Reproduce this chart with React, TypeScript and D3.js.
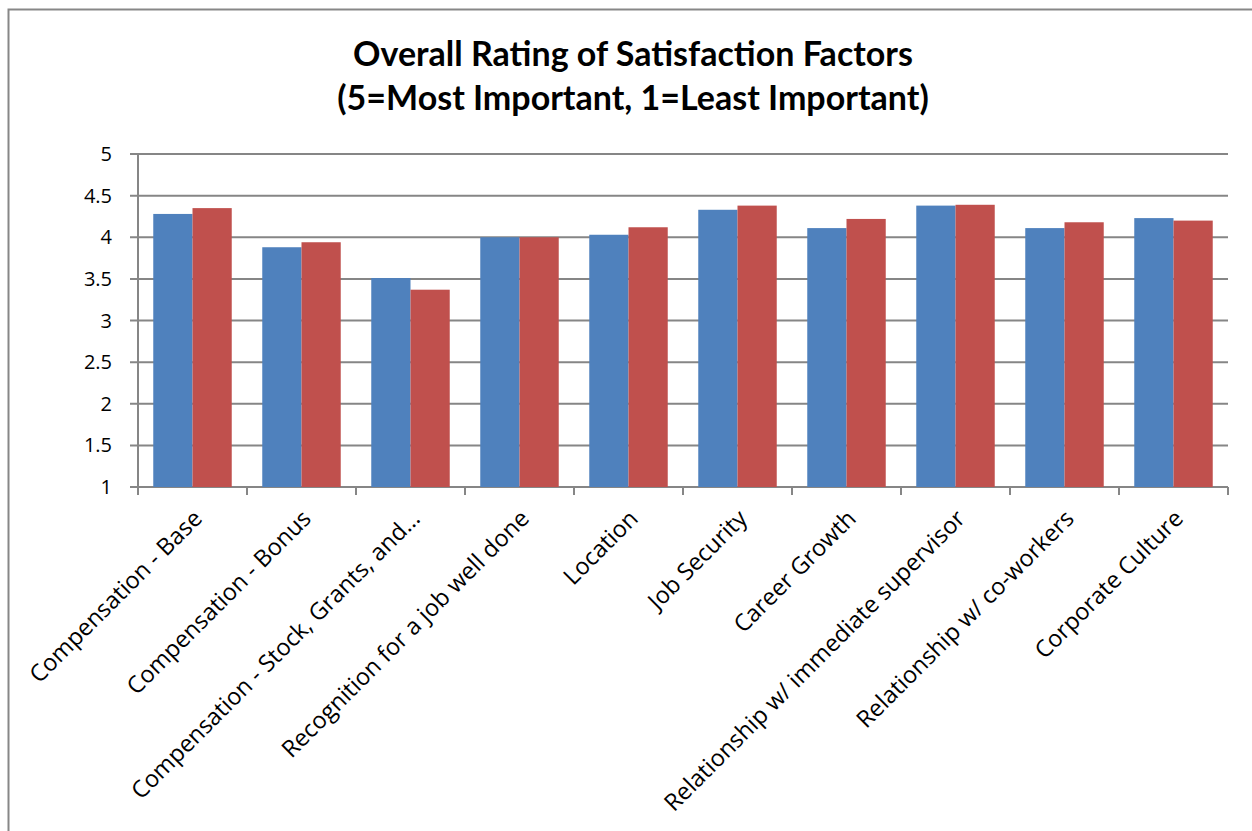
import React from "react";
import * as d3 from "d3";

const categories = [
  "Compensation - Base",
  "Compensation - Bonus",
  "Compensation - Stock, Grants, and…",
  "Recognition for a job well done",
  "Location",
  "Job Security",
  "Career Growth",
  "Relationship w/ immediate supervisor",
  "Relationship w/ co-workers",
  "Corporate Culture",
];
const seriesA = [4.28, 3.88, 3.51, 4.0, 4.03, 4.33, 4.11, 4.38, 4.11, 4.23];
const seriesB = [4.35, 3.94, 3.37, 4.0, 4.12, 4.38, 4.22, 4.39, 4.18, 4.2];
const yTicks = [1, 1.5, 2, 2.5, 3, 3.5, 4, 4.5, 5];
const titleLines = ["Overall Rating of Satisfaction Factors", "(5=Most Important, 1=Least Important)"];
const colors = ["#4f81bd", "#c0504d"];

export default function App() {
  const W = 1252, H = 831;
  const left = 138, right = 1228, top = 154, bottom = 487;
  const x = d3.scaleBand<string>().domain(categories).range([left, right]).paddingInner(0.28).paddingOuter(0.14);
  const x0 = d3.scaleBand<string>().domain(categories).range([left, right]);
  const inner = d3.scaleBand<number>().domain([0, 1]).range([0, x.bandwidth()]);
  const y = d3.scaleLinear().domain([1, 5]).range([bottom, top]);
  const series = [seriesA, seriesB];
  const font = "'Open Sans', sans-serif";
  return (
    <div style={{ position: "fixed", left: 0, top: 0 }}>
      <svg width={W} height={H} style={{ display: "block", background: "#fff" }}>
        <rect x={8.5} y={9.5} width={W + 20} height={H + 20} fill="#fff" stroke="#878787" strokeWidth={2} />
        {titleLines.map((t, i) => (
          <text key={i} x={633} y={66 + i * 44} textAnchor="middle" fontFamily="Lato, sans-serif" fontWeight="bold" fontSize={34} fill="#000">
            {t}
          </text>
        ))}
        {yTicks.map((t) => (
          <g key={t}>
            <line x1={left - 8} x2={right} y1={y(t)} y2={y(t)} stroke="#868686" strokeWidth={2} />
            <text x={112} y={y(t) + 7} textAnchor="end" fontFamily={font} fontSize={20} fill="#000">
              {t}
            </text>
          </g>
        ))}
        <line x1={left} x2={left} y1={top} y2={bottom} stroke="#868686" strokeWidth={2} />
        {categories.map((c, i) =>
          series.map((s, k) => (
            <rect
              key={c + k}
              x={(x(c) as number) + (inner(k) as number)}
              y={y(s[i])}
              width={inner.bandwidth()}
              height={y(1) - y(s[i])}
              fill={colors[k]}
            />
          ))
        )}
        {categories.concat([""]).map((c, i) => {
          const xp = i < categories.length ? (x0(c) as number) : right;
          return <line key={"t" + i} x1={xp} x2={xp} y1={bottom} y2={bottom + 8} stroke="#868686" strokeWidth={2} />;
        })}
        {categories.map((c) => {
          const cx = (x0(c) as number) + x0.bandwidth() / 2 + 11;
          const cy = bottom + 33;
          return (
            <text key={c} transform={`translate(${cx},${cy}) rotate(-45)`} textAnchor="end" fontFamily={font} fontSize={23.5} fill="#000">
              {c}
            </text>
          );
        })}
      </svg>
    </div>
  );
}
